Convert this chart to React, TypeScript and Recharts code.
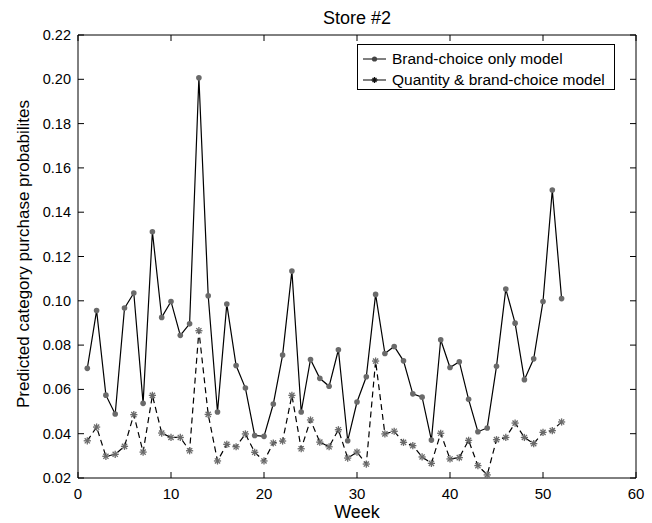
import React from 'react'
import { LineChart, Line, XAxis, YAxis } from 'recharts'

const weeks = [1, 2, 3, 4, 5, 6, 7, 8, 9, 10, 11, 12, 13, 14, 15, 16, 17, 18, 19, 20, 21, 22, 23, 24, 25, 26,
  27, 28, 29, 30, 31, 32, 33, 34, 35, 36, 37, 38, 39, 40, 41, 42, 43, 44, 45, 46, 47, 48, 49, 50, 51, 52]

const brandOnly = [0.0695, 0.0956, 0.0574, 0.0489, 0.0967, 0.1035, 0.0537, 0.1312, 0.0925, 0.0997,
  0.0844, 0.0896, 0.2007, 0.1023, 0.0498, 0.0985, 0.0708, 0.0606, 0.0392, 0.0388,
  0.0534, 0.0755, 0.1134, 0.0498, 0.0735, 0.065, 0.0614, 0.0779, 0.0368, 0.0543,
  0.0657, 0.1029, 0.0762, 0.0794, 0.0729, 0.058, 0.0565, 0.0371, 0.0824, 0.0699,
  0.0725, 0.0555, 0.0409, 0.0426, 0.0704, 0.1053, 0.0899, 0.0644, 0.0738, 0.0997,
  0.150, 0.101]

const qtyBrand = [0.0368, 0.043, 0.0298, 0.0307, 0.0343, 0.0486, 0.0317, 0.0573, 0.0403, 0.0383,
  0.0383, 0.0323, 0.0865, 0.0487, 0.0277, 0.0352, 0.0341, 0.0399, 0.0316, 0.0277,
  0.0358, 0.0367, 0.0573, 0.0332, 0.0462, 0.0362, 0.0341, 0.0418, 0.029, 0.0317,
  0.0263, 0.0728, 0.0399, 0.0411, 0.0361, 0.0346, 0.0295, 0.0266, 0.0402, 0.0286,
  0.0292, 0.037, 0.0256, 0.0214, 0.0373, 0.0383, 0.0448, 0.0383, 0.0355, 0.0406,
  0.0414, 0.0453]

const xTicks = [0, 10, 20, 30, 40, 50, 60]
const yTicks = [0.02, 0.04, 0.06, 0.08, 0.1, 0.12, 0.14, 0.16, 0.18, 0.2, 0.22]

const seriesNames = ['Brand-choice only model', 'Quantity & brand-choice model']

const data = weeks.map((w, i) => ({ week: w, brand: brandOnly[i], qty: qtyBrand[i] }))

const FONT = '"Liberation Sans", Arial, Helvetica, sans-serif'
const MARK = '#6a6a6a'
const TL = 6

const CircleDot = (p: any) => (
  <circle key={p.key} cx={p.cx} cy={p.cy} r={2.8} fill={MARK} stroke="none" />
)

const StarDot = (p: any) => {
  const { cx, cy } = p
  const s = 3.6
  const d = 2.6
  return (
    <g key={p.key} stroke={MARK} strokeWidth={1.3}>
      <line x1={cx - s} y1={cy} x2={cx + s} y2={cy} />
      <line x1={cx} y1={cy - s} x2={cx} y2={cy + s} />
      <line x1={cx - d} y1={cy - d} x2={cx + d} y2={cy + d} />
      <line x1={cx - d} y1={cy + d} x2={cx + d} y2={cy - d} />
    </g>
  )
}

const BottomTick = (p: any) => (
  <g>
    <path d={`M${p.x},${p.y}v${-TL}`} stroke="#000" strokeWidth={1} fill="none" />
    <text x={p.x} y={p.y + 21} textAnchor="middle" fontSize={15} fontFamily={FONT} fill="#000">{p.payload.value}</text>
  </g>
)
const TopTick = (p: any) => <path d={`M${p.x},${p.y}v${TL}`} stroke="#000" strokeWidth={1} fill="none" />
const LeftTick = (p: any) => (
  <g>
    <path d={`M${p.x},${p.y}h${TL}`} stroke="#000" strokeWidth={1} fill="none" />
    <text x={p.x - 7} y={p.y + 5} textAnchor="end" fontSize={14.5} fontFamily={FONT} fill="#000">{Number(p.payload.value).toFixed(2)}</text>
  </g>
)
const RightTick = (p: any) => <path d={`M${p.x},${p.y}h${-TL}`} stroke="#000" strokeWidth={1} fill="none" />

const LegendBox = () => (
  <div style={{ position: 'absolute', left: 357, top: 44, width: 258, height: 46, boxSizing: 'border-box', border: '1px solid #000', background: '#fff', padding: '3px 0 0 5px', fontFamily: FONT, fontSize: 15.5, lineHeight: '21px', color: '#000' }}>
    {seriesNames.map((n, i) => (
      <div key={n} style={{ display: 'flex', alignItems: 'center', whiteSpace: 'nowrap' }}>
        <svg width={23} height={10} style={{ marginRight: 6 }}>
          <line x1={0} y1={5} x2={23} y2={5} stroke="#000" strokeWidth={1} />
          {i === 0 ? <circle cx={11.5} cy={5} r={2.6} fill="#444" /> : (
            <g stroke="#111" strokeWidth={1.3}>
              <line x1={8.5} y1={5} x2={14.5} y2={5} />
              <line x1={11.5} y1={2} x2={11.5} y2={8} />
              <line x1={9.5} y1={3} x2={13.5} y2={7} />
              <line x1={9.5} y1={7} x2={13.5} y2={3} />
            </g>
          )}
        </svg>
        {n}
      </div>
    ))}
  </div>
)

export default function App() {
  return (
    <div style={{ position: 'absolute', left: 0, top: 0, width: 652, height: 523, background: '#fff' }}>
      <div style={{ position: 'absolute', left: 78, width: 558, top: 8, lineHeight: '20px', textAlign: 'center', fontFamily: FONT, fontSize: 18, color: '#000' }}>Store #2</div>
      <div style={{ position: 'absolute', left: 78, width: 558, top: 502, lineHeight: '20px', textAlign: 'center', fontFamily: FONT, fontSize: 18, color: '#000' }}>Week</div>
      <div style={{ position: 'absolute', left: 24, top: 254, width: 0, height: 0 }}>
        <div style={{ position: 'absolute', transform: 'translate(-50%, -50%) rotate(-90deg)', whiteSpace: 'nowrap', fontFamily: FONT, fontSize: 17, color: '#000' }}>
          Predicted category purchase probabilites
        </div>
      </div>
      <LineChart width={652} height={523} data={data} margin={{ top: 34, right: 15, bottom: 15, left: 18 }}>
        <XAxis dataKey="week" type="number" domain={[0, 60]} ticks={xTicks} height={30} interval={0}
          stroke="#000" tickLine={false} tickSize={0} tickMargin={0} tick={BottomTick} />
        <XAxis xAxisId="top" dataKey="week" orientation="top" type="number" domain={[0, 60]} ticks={xTicks} height={1} interval={0}
          stroke="#000" tickLine={false} tickSize={0} tickMargin={0} tick={TopTick} />
        <YAxis type="number" domain={[0.02, 0.22]} ticks={yTicks} width={60} stroke="#000" interval={0}
          tickLine={false} tickSize={0} tickMargin={0} tick={LeftTick} />
        <YAxis yAxisId="right" orientation="right" type="number" domain={[0.02, 0.22]} ticks={yTicks} width={1} interval={0}
          stroke="#000" tickLine={false} tickSize={0} tickMargin={0} tick={RightTick} />
        <Line xAxisId="top" yAxisId="right" dataKey="brand" stroke="none" dot={false} activeDot={false} isAnimationActive={false} legendType="none" />
        <Line dataKey="brand" stroke="#000" strokeWidth={1.2} dot={CircleDot} activeDot={false} isAnimationActive={false} />
        <Line dataKey="qty" stroke="#000" strokeWidth={1.2} strokeDasharray="6 4" dot={StarDot} activeDot={false} isAnimationActive={false} />
      </LineChart>
      <LegendBox />
    </div>
  )
}
